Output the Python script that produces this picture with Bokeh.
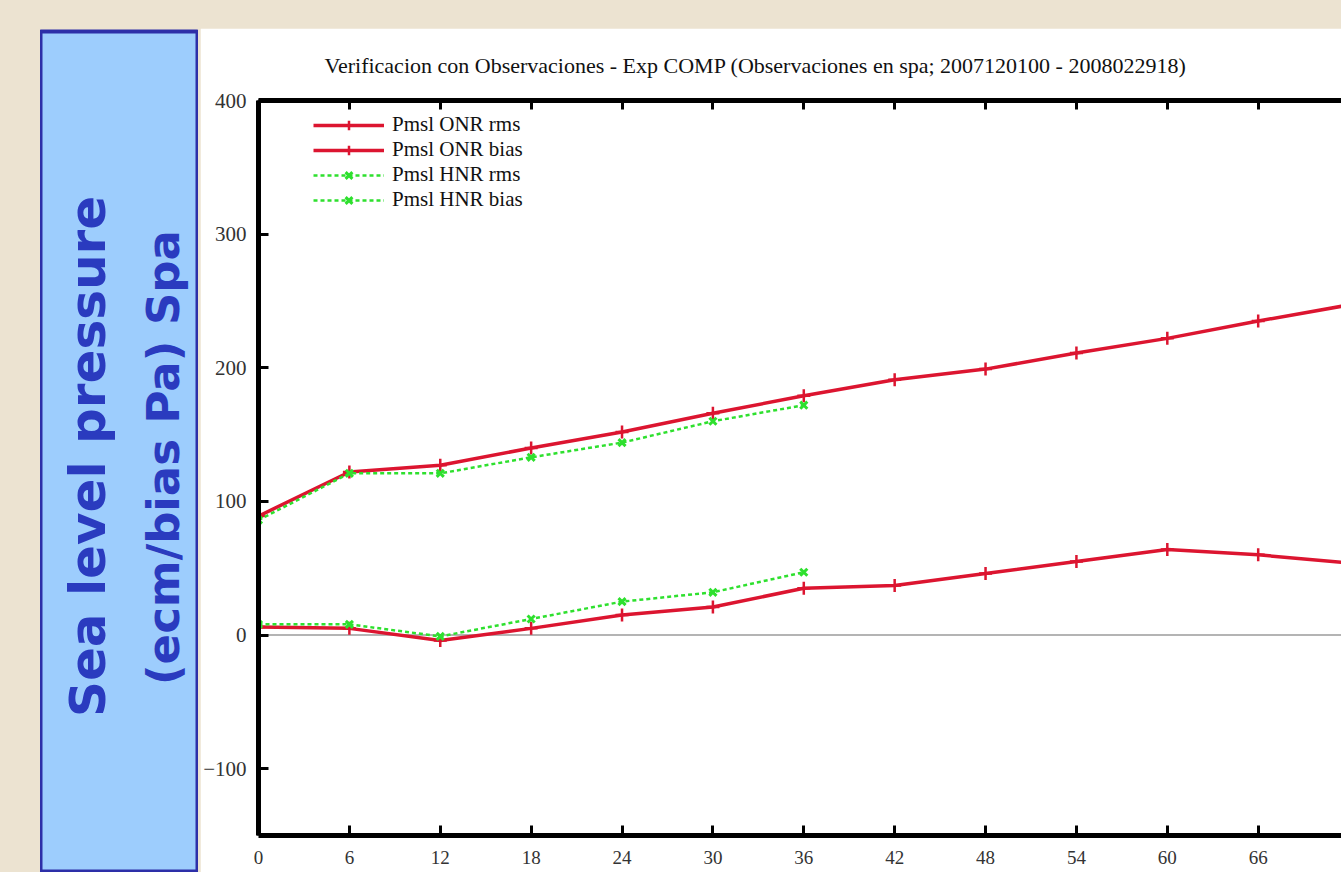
from math import pi
from bokeh.plotting import figure
from bokeh.models import (Range1d, FixedTicker, LinearAxis, Legend, LegendItem,
                          Span, Label, Spacer)
from bokeh.layouts import row, column
from bokeh.embed import file_html
from bokeh.resources import INLINE

# ---------------- data ----------------
hours = [0, 6, 12, 18, 24, 30, 36, 42, 48, 54, 60, 66, 72]
onr_rms = [89, 122, 127, 140, 152, 166, 179, 191, 199, 211, 222, 235, 247]
onr_bias = [6, 5, -4, 5, 15, 21, 35, 37, 46, 55, 64, 60, 54]

hnr_hours = [0, 6, 12, 18, 24, 30, 36]
hnr_rms = [86, 121, 121, 133, 144, 160, 172]
hnr_bias = [8, 8, -1, 12, 25, 32, 47]

x_ticks = [0, 6, 12, 18, 24, 30, 36, 42, 48, 54, 60, 66, 72]
y_ticks = [-100, 0, 100, 200, 300, 400]

title_text = ("Verificacion con Observaciones - Exp COMP "
              "(Observaciones en spa; 2007120100 - 2008022918)")
legend_labels = ["Pmsl ONR rms", "Pmsl ONR bias", "Pmsl HNR rms", "Pmsl HNR bias"]
panel_line1 = "Sea level pressure"
panel_line2 = "(ecm/bias Pa) Spa"

# ---------------- styles ----------------
BEIGE = "#ece3d1"
SERIF = "Liberation Serif"
RED = "#dc1530"
GREEN = "#2ee02e"
PANEL_BLUE = "#9dcdfd"
PANEL_EDGE = "#2d2fa8"
PANEL_TEXT = "#2a3bbf"

# ---------------- main plot ----------------
p = figure(width=1141, height=844,
           x_range=Range1d(0, 71.5), y_range=Range1d(-150, 400),
           output_backend="svg", toolbar_location=None,
           min_border_left=58, min_border_right=0,
           min_border_top=71, min_border_bottom=37,
           background_fill_color="white", border_fill_color="white",
           outline_line_color=None)
p.frame_align = False
p.xgrid.visible = False
p.ygrid.visible = False

p.title.text = title_text
p.title.align = "left"
p.title.offset = 66
p.title.text_font = SERIF
p.title.text_font_size = "22px"
p.title.text_font_style = "normal"
p.title.text_color = "#111111"
p.title.standoff = 45

xa = p.xaxis[0]
xa.ticker = FixedTicker(ticks=x_ticks)
ya = p.yaxis[0]
ya.ticker = FixedTicker(ticks=y_ticks)
for ax, stand, fs in ((xa, 15, "19px"), (ya, 12, "21px")):
    ax.axis_line_width = 5
    ax.axis_line_color = "black"
    ax.major_tick_in = 10
    ax.major_tick_out = 0
    ax.major_tick_line_width = 3
    ax.major_tick_line_color = "black"
    ax.minor_tick_line_color = None
    ax.major_label_text_font = SERIF
    ax.major_label_text_font_size = fs
    ax.major_label_text_color = "#333333"
    ax.major_label_standoff = stand

top_axis = LinearAxis(ticker=FixedTicker(ticks=x_ticks),
                      axis_line_width=5, axis_line_color="black",
                      major_tick_in=9, major_tick_out=0,
                      major_tick_line_width=3, major_tick_line_color="black",
                      minor_tick_line_color=None,
                      major_label_text_font_size="10px",
                      major_label_text_color=None,
                      major_label_standoff=0)
p.add_layout(top_axis, "above")

p.add_layout(Span(location=0, dimension="width", line_color="#b4b4b4",
                  line_width=2, level="underlay"))

r1 = p.line(hours, onr_rms, line_color=RED, line_width=3.5)
m1 = p.scatter(hours, onr_rms, marker="cross", size=13, line_color=RED, line_width=2.5)
r2 = p.line(hours, onr_bias, line_color=RED, line_width=3.5)
m2 = p.scatter(hours, onr_bias, marker="cross", size=13, line_color=RED, line_width=2.5)
r3 = p.line(hnr_hours, hnr_rms, line_color=GREEN, line_width=2.5, line_dash="4 3")
m3 = p.scatter(hnr_hours, hnr_rms, marker="x", size=10, line_color=GREEN, line_width=3)
r4 = p.line(hnr_hours, hnr_bias, line_color=GREEN, line_width=2.5, line_dash="4 3")
m4 = p.scatter(hnr_hours, hnr_bias, marker="x", size=10, line_color=GREEN, line_width=3)

items = [LegendItem(label=legend_labels[0], renderers=[r1, m1]),
         LegendItem(label=legend_labels[1], renderers=[r2, m2]),
         LegendItem(label=legend_labels[2], renderers=[r3, m3]),
         LegendItem(label=legend_labels[3], renderers=[r4, m4])]
legend = Legend(items=items, location=(55, 623),
                glyph_width=71, glyph_height=24, label_height=24,
                label_standoff=8,
                spacing=0, padding=0, margin=0,
                background_fill_alpha=0, border_line_alpha=0,
                label_text_font=SERIF, label_text_font_size="21px",
                label_text_color="#111111")
p.add_layout(legend, "center")

# ---------------- blue side panel ----------------
blue = figure(width=158, height=844,
              x_range=Range1d(0, 158), y_range=Range1d(0, 841),
              x_axis_location=None, y_axis_location=None,
              output_backend="svg", toolbar_location=None,
              min_border_left=0, min_border_right=0,
              min_border_bottom=0, min_border_top=3,
              background_fill_color=PANEL_BLUE, border_fill_color=BEIGE,
              outline_line_color=PANEL_EDGE, outline_line_width=4)
blue.frame_align = False
blue.grid.visible = False
blue.add_layout(Label(x=47, y=416, text=panel_line1, angle=pi / 2,
                      text_align="center", text_baseline="alphabetic",
                      text_font="DejaVu Sans", text_font_style="bold",
                      text_font_size="50px", text_color=PANEL_TEXT))
blue.add_layout(Label(x=123, y=415, text=panel_line2, angle=pi / 2,
                      text_align="center", text_baseline="alphabetic",
                      text_font="DejaVu Sans", text_font_style="bold",
                      text_font_size="45px", text_color=PANEL_TEXT))

layout = column(Spacer(width=1341, height=28),
                row(Spacer(width=40, height=844), blue,
                    Spacer(width=2, height=844), p),
                styles={"background-color": BEIGE})

open("out.html", "w").write(file_html(layout, INLINE))
